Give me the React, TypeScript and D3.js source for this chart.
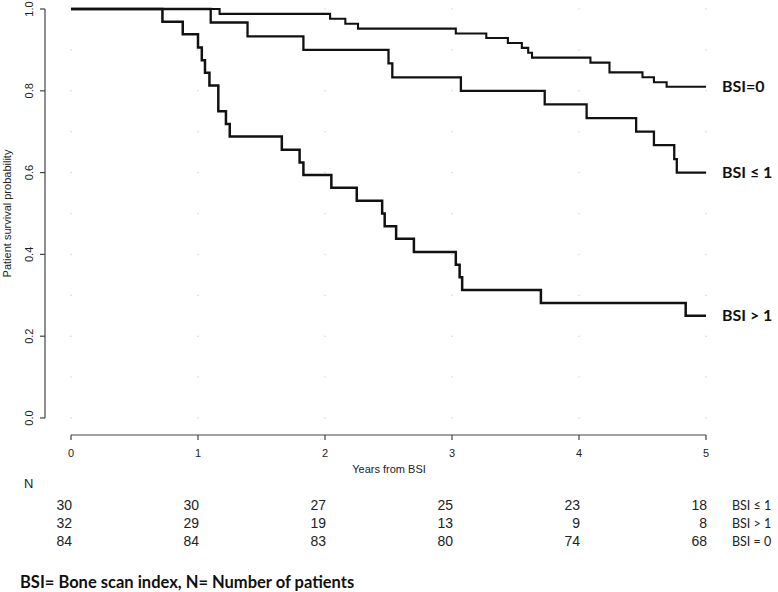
import React from 'react';
import * as d3 from 'd3';

const years = [0, 1, 2, 3, 4, 5];
const yTicks = [0, 0.2, 0.4, 0.6, 0.8, 1.0];
const gridY = [0, 0.1, 0.2, 0.3, 0.4, 0.5, 0.6, 0.7, 0.8, 0.9, 1.0];
const followUp = 5;

// step times (years) and survival after each step
const bsi0Times = [0, 1.17, 2.04, 2.16, 2.26, 3.03, 3.27, 3.44, 3.55, 3.6, 3.63, 4.09, 4.24, 4.5, 4.59, 4.69];
const bsi0Surv = [1, 0.988, 0.976, 0.964, 0.952, 0.94, 0.929, 0.917, 0.905, 0.893, 0.881, 0.869, 0.845, 0.833, 0.821, 0.81];

const bsiLe1Times = [0, 1.1, 1.39, 1.83, 2.5, 2.53, 3.07, 3.73, 4.06, 4.45, 4.59, 4.75, 4.77];
const bsiLe1Surv = [1, 0.967, 0.933, 0.9, 0.867, 0.833, 0.8, 0.767, 0.733, 0.7, 0.667, 0.633, 0.6];

const bsiGt1Times = [0, 0.72, 0.88, 1.0, 1.03, 1.055, 1.09, 1.16, 1.22, 1.25, 1.66, 1.8, 1.83, 2.05, 2.25, 2.45, 2.47, 2.56, 2.7, 3.03, 3.06, 3.08, 3.7, 4.84];
const bsiGt1Surv = [1, 0.969, 0.938, 0.906, 0.875, 0.844, 0.813, 0.75, 0.719, 0.688, 0.656, 0.625, 0.594, 0.563, 0.531, 0.5, 0.469, 0.438, 0.406, 0.375, 0.344, 0.313, 0.281, 0.25];

const curveLabels = ['BSI=0', 'BSI \u2264 1', 'BSI > 1'];

// numbers at risk
const riskLabels = ['BSI \u2264 1', 'BSI > 1', 'BSI = 0'];
const riskLe1 = [30, 30, 27, 25, 23, 18];
const riskGt1 = [32, 29, 19, 13, 9, 8];
const risk0 = [84, 84, 83, 80, 74, 68];

const W = 778;
const H = 592;

const App: React.FC = () => {
  const x = d3.scaleLinear().domain([0, 5]).range([71, 706]);
  const y = d3.scaleLinear().domain([0, 1]).range([418, 9]);

  const line = d3.line<[number, number]>()
    .x(d => x(d[0]))
    .y(d => y(d[1]))
    .curve(d3.curveStepAfter);

  const series = [
    { times: bsi0Times, surv: bsi0Surv, label: curveLabels[0], width: 2.1 },
    { times: bsiLe1Times, surv: bsiLe1Surv, label: curveLabels[1], width: 2.3 },
    { times: bsiGt1Times, surv: bsiGt1Surv, label: curveLabels[2], width: 2.5 },
  ];

  const riskRows = [riskLe1, riskGt1, risk0];
  const arial = 'Liberation Sans, Arial, sans-serif';
  const calibri = 'Lato, Carlito, Calibri, sans-serif';

  return (
    <svg width={W} height={H} style={{ position: 'absolute', left: 0, top: 0, background: '#fff' }}>
      {/* faint dotted grid */}
      <g fill="#cfcfcf">
        {years.map(t => gridY.map(v => (
          <circle key={`${t}-${v}`} cx={x(t)} cy={y(v)} r={0.75} />
        )))}
      </g>

      {/* y axis */}
      <g stroke="#444" strokeWidth={1.2}>
        <line x1={45} x2={45} y1={y(0)} y2={y(1)} />
        {yTicks.map(v => (
          <line key={v} x1={40} x2={45} y1={y(v)} y2={y(v)} />
        ))}
      </g>
      <g fontFamily={arial} fontSize={11} fill="#222">
        {yTicks.map(v => (
          <text key={v} transform={`translate(33,${y(v)}) rotate(-90)`} textAnchor="middle">
            {d3.format('.1f')(v)}
          </text>
        ))}
        <text transform={`translate(11,${(y(0) + y(1)) / 2}) rotate(-90)`} textAnchor="middle">
          Patient survival probability
        </text>
      </g>

      {/* x axis */}
      <g stroke="#444" strokeWidth={1.2}>
        <line x1={x(0)} x2={x(5)} y1={435} y2={435} />
        {years.map(t => (
          <line key={t} x1={x(t)} x2={x(t)} y1={435} y2={440} />
        ))}
      </g>
      <g fontFamily={arial} fontSize={11} fill="#222" textAnchor="middle">
        {years.map(t => (
          <text key={t} x={x(t)} y={457}>{t}</text>
        ))}
        <text x={389} y={473}>Years from BSI</text>
      </g>

      {/* survival curves */}
      {series.map(s => {
        const pts: [number, number][] = s.times.map((t, i) => [t, s.surv[i]]);
        pts.push([followUp, s.surv[s.surv.length - 1]]);
        return (
          <g key={s.label}>
            <path d={line(pts) || ''} fill="none" stroke="#111" strokeWidth={s.width} />
            <text x={x(followUp) + 16} y={y(s.surv[s.surv.length - 1])} dy="0.35em"
              fontFamily={calibri} fontWeight="bold" fontSize={16} fill="#111">
              {s.label}
            </text>
          </g>
        );
      })}

      {/* numbers at risk */}
      <text x={24} y={488} fontFamily={arial} fontSize={13} fill="#222">N</text>
      {riskRows.map((row, r) => (
        <g key={r}>
          {row.map((n, i) => (
            <text key={i} x={x(years[i]) + 1} y={510 + r * 18} textAnchor="end"
              fontFamily={arial} fontSize={14} fill="#222">{n}</text>
          ))}
          <text x={732} y={510 + r * 18} fontFamily={calibri} fontSize={12.5} fill="#222">
            {riskLabels[r]}
          </text>
        </g>
      ))}

      <text x={20} y={588} fontFamily={calibri} fontWeight="bold" fontSize={16.5} fill="#111">
        BSI= Bone scan index, N= Number of patients
      </text>
    </svg>
  );
};

export default App;
